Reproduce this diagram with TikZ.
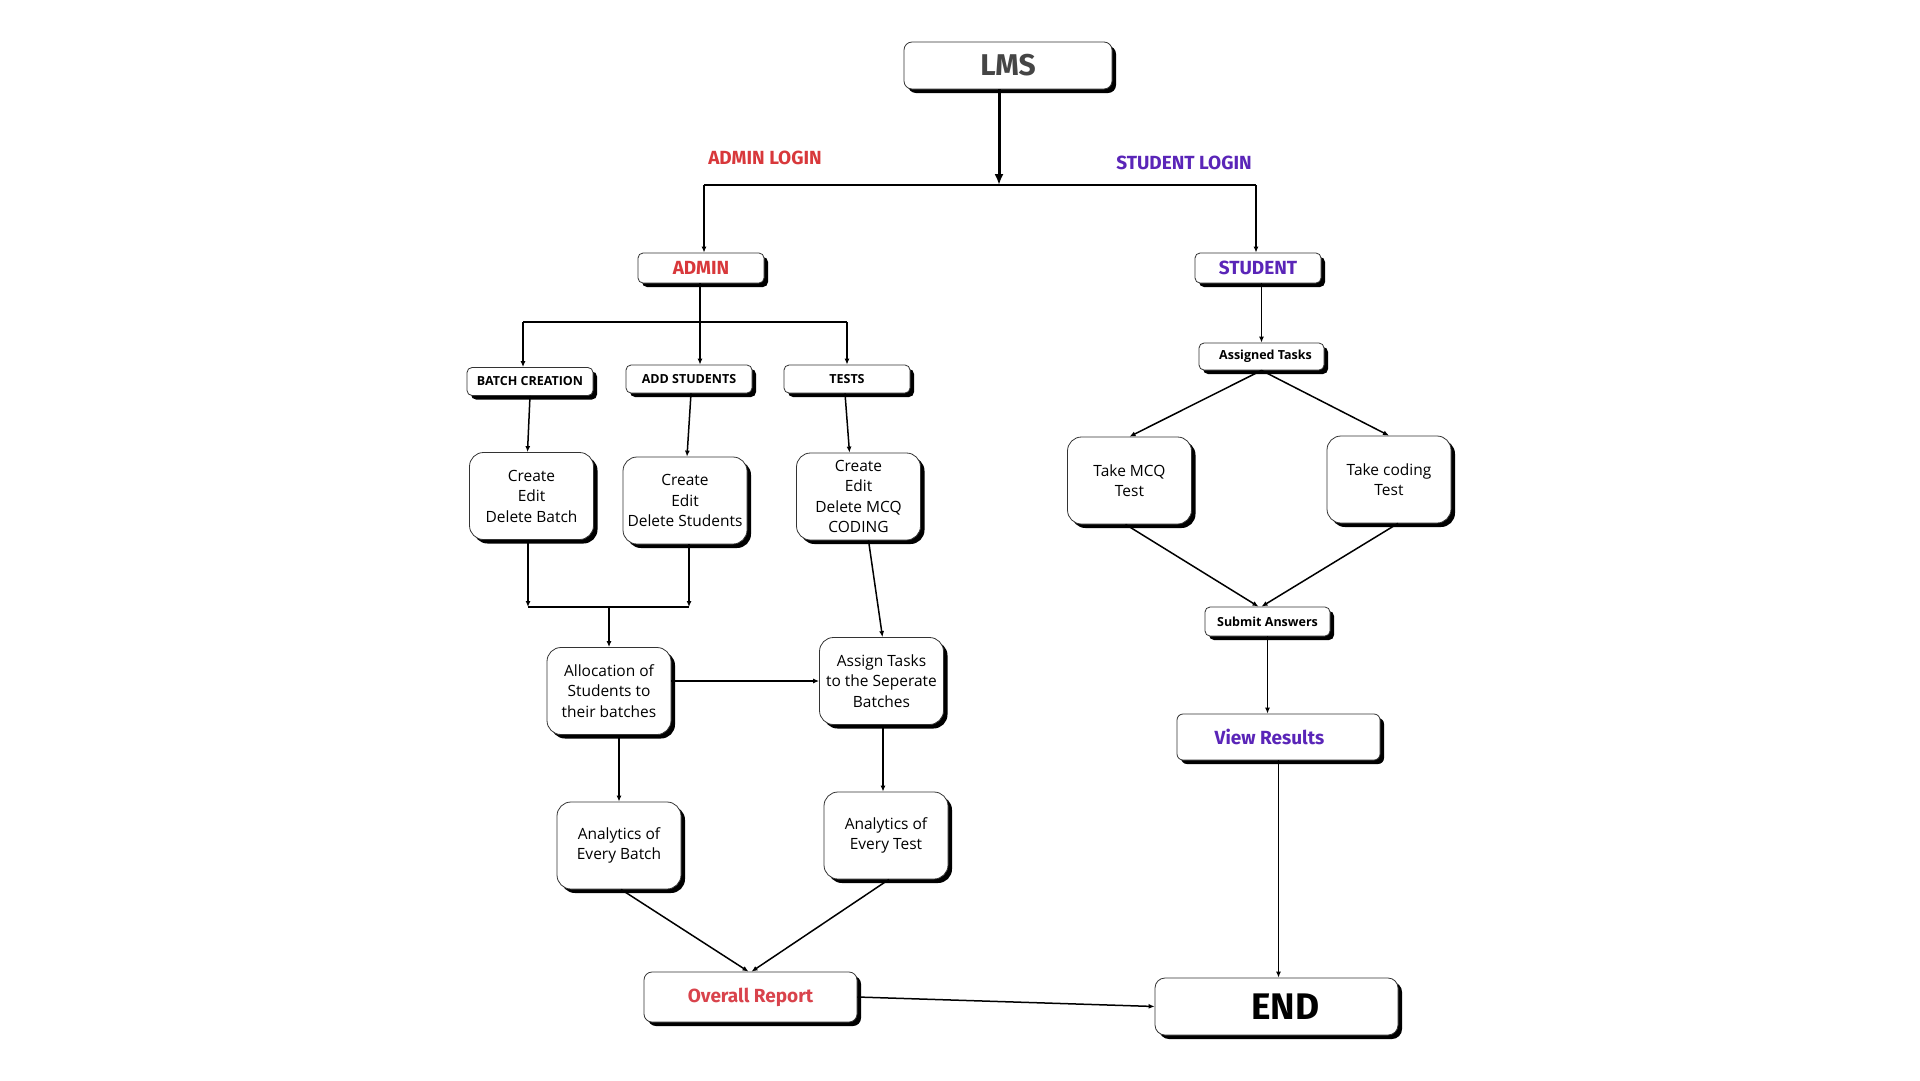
\documentclass[tikz,border=0pt]{standalone}
\usepackage{fontspec}
\setmainfont{Open Sans}
\newfontfamily\headfont{Fira Sans}
\usetikzlibrary{arrows.meta,shadows,calc}
\definecolor{adminred}{HTML}{D8383B}
\definecolor{reportred}{HTML}{D9434C}
\definecolor{stupurple}{HTML}{5A25B8}
\definecolor{lmsgray}{HTML}{454545}
\tikzset{
  box/.style={draw=black!80, line width=0.8pt, fill=white, align=center,
    drop shadow={shadow xshift=4pt, shadow yshift=-4pt, opacity=1, fill=black},
    inner sep=2pt},
  smallbox/.style={box, rounded corners=5pt, minimum width=126pt, minimum height=28pt},
  bigbox/.style={box, rounded corners=14pt, minimum width=124pt, minimum height=87pt,
    font=\fontsize{15.5}{20.5}\selectfont},
  tag/.style={font=\fontsize{12.5}{14}\selectfont\bfseries},
  conn/.style={line width=1.5pt, -{Latex[length=6pt,width=5pt]}},
  plain/.style={line width=1.5pt},
}
\begin{document}
\begin{tikzpicture}[x=1pt,y=-1pt]
\useasboundingbox[fill=white] (0,0) rectangle (1920,1080);

% top
\node[box, rounded corners=8pt, minimum width=208pt, minimum height=47pt,
  font=\headfont\fontsize{30}{32}\selectfont\bfseries, text=lmsgray] (lms) at (1008,65.5) {LMS};
\coordinate (split) at (999,185);
\coordinate (splitL) at (704,185);
\coordinate (splitR) at (1256,185);
\draw[line width=3pt, -{Latex[length=11pt,width=9pt]}] (lms.south -| split) -- (split);
\draw[line width=2pt] (splitL) -- (splitR);

\node[font=\headfont\fontsize{19}{21}\selectfont\bfseries, text=adminred] (adminlogin) at (765,158) {ADMIN LOGIN};
\node[font=\headfont\fontsize{19}{21}\selectfont\bfseries, text=stupurple] (studentlogin) at (1184,163) {STUDENT LOGIN};

\node[smallbox, minimum height=30pt, font=\headfont\fontsize{19}{21}\selectfont\bfseries, text=adminred] (admin) at (701,268) {ADMIN};
\node[smallbox, minimum height=30pt, font=\headfont\fontsize{19}{21}\selectfont\bfseries, text=stupurple] (student) at (1258,268) {STUDENT};
\draw[conn] (splitL) -- (splitL |- admin.north);
\draw[conn] (splitR) -- (splitR |- student.north);

% admin branch
\node[smallbox, tag] (batchc) at (530,381.5) {BATCH CREATION};
\node[smallbox, tag] (addst) at (689,379) {ADD STUDENTS};
\node[smallbox, tag] (tests) at (847,379) {TESTS};
\coordinate (asplit) at (700,322);
\coordinate (asplitL) at (523,322);
\coordinate (asplitR) at (847,322);
\draw[plain] (admin.south -| asplit) -- (asplit);
\draw[plain] (asplitL) -- (asplitR);
\draw[conn] (asplitL) -- (asplitL |- batchc.north);
\draw[conn] (asplit) -- (asplit |- addst.north);
\draw[conn] (asplitR) -- (asplitR |- tests.north);

\node[bigbox] (cbatch) at (531.5,496) {Create\\Edit\\Delete Batch};
\node[bigbox] (cstud) at (685,500.5) {Create\\Edit\\Delete Students};
\node[bigbox] (cmcq) at (858.5,496.5) {Create\\Edit\\Delete MCQ\\CODING};
\draw[conn] ($(batchc.south)+(0,0)$) -- ($(cbatch.north)+(-4,0)$);
\draw[conn] ($(addst.south)+(2,0)$) -- ($(cstud.north)+(2,0)$);
\draw[conn] ($(tests.south)+(-2,0)$) -- ($(cmcq.north)+(-9,0)$);

\coordinate (mL) at (528,607);
\coordinate (mR) at (689,607);
\coordinate (mC) at (609,607);
\draw[conn] (cbatch.south -| mL) -- (mL);
\draw[conn] (cstud.south -| mR) -- (mR);
\draw[plain] (mL) -- (mR);

\node[bigbox] (alloc) at (609,691) {Allocation of\\Students to\\their batches};
\node[bigbox] (assign) at (881.5,681) {Assign Tasks\\to the Seperate\\Batches};
\draw[conn] (mC) -- (alloc.north);
\draw[conn] ($(cmcq.south)+(10,0)$) -- ($(assign.north)+(1,0)$);
\draw[conn] (alloc.east |- assign.west) -- (assign.west);

\node[bigbox] (anb) at (619,845.5) {Analytics of\\Every Batch};
\node[bigbox] (ant) at (886,835.5) {Analytics of\\Every Test};
\draw[conn] (anb.north |- alloc.south) -- (anb.north);
\draw[conn] ($(assign.south)+(1.5,0)$) -- ($(assign.south |- ant.north)+(1.5,0)$);

\node[box, rounded corners=8pt, minimum width=213pt, minimum height=50pt,
  font=\headfont\fontsize{19}{21}\selectfont\bfseries, text=reportred] (overall) at (750.5,997) {Overall Report};
\draw[conn] ($(anb.south)+(2,0)$) -- ($(overall.north)+(-2,0)$);
\draw[conn] ($(ant.south)+(3,0)$) -- ($(overall.north)+(1,0)$);

\node[box, rounded corners=10pt, minimum width=243pt, minimum height=57pt,
  font=\headfont\fontsize{37}{40}\selectfont\bfseries] (endn) at (1276.5,1006.5) {\hspace*{18pt}END};
\draw[conn] (overall.east) -- (endn.west);

% student branch
\node[smallbox, tag, minimum width=125pt, minimum height=27pt] (assigned) at (1261.5,356.5) {\hspace*{8pt}Assigned Tasks};
\draw[conn] (student.south -| assigned.north) -- (assigned.north);
\node[bigbox] (mcq) at (1129.5,480.5) {Take MCQ\\Test};
\node[bigbox] (coding) at (1389,479.5) {Take coding\\Test};
\draw[conn] (assigned.south) -- (mcq.north);
\draw[conn] (assigned.south) -- (coding.north);

\node[smallbox, tag, minimum width=125pt, minimum height=29pt] (submit) at (1267.5,621.5) {Submit Answers};
\draw[conn] ($(mcq.south)+(-4,0)$) -- ($(submit.north)+(-9,0)$);
\draw[conn] ($(coding.south)+(9,0)$) -- ($(submit.north)+(-6,0)$);

\node[box, rounded corners=6pt, minimum width=203pt, minimum height=46pt,
  font=\headfont\fontsize{19}{21}\selectfont\bfseries, text=stupurple] (view) at (1278.5,737) {View Results\hspace*{18pt}};
\draw[conn] (submit.south) -- ($(view.north)+(-11,0)$);
\draw[conn] (view.south) -- (view.south |- endn.north);
\end{tikzpicture}
\end{document}
